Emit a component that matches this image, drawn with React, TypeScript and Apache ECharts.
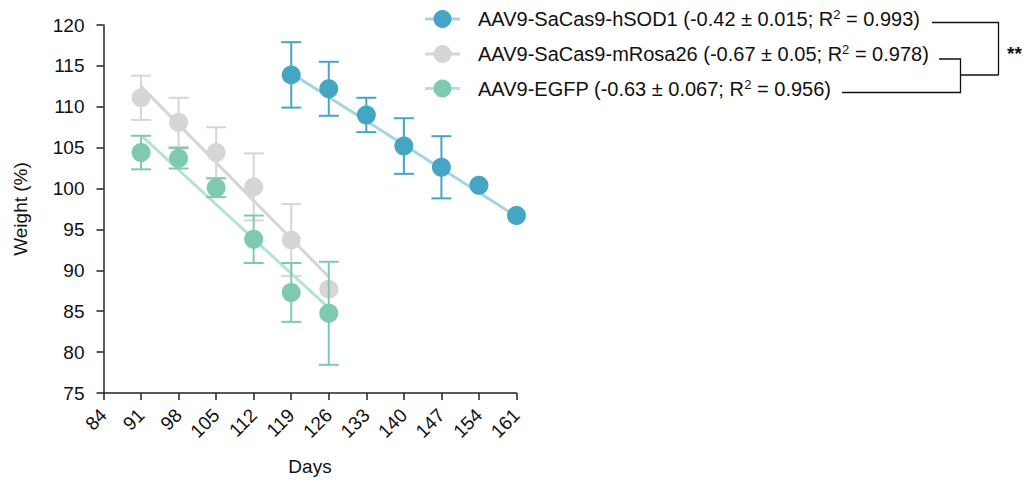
import React, { useEffect, useRef } from "react";
import * as echarts from "echarts";

const X_TICKS_MIN = 84;
const X_TICKS_MAX = 161;
const X_INTERVAL = 7;
const Y_MIN = 75;
const Y_MAX = 120;
const Y_INTERVAL = 5;

const SERIES_NAMES = [
  "AAV9-SaCas9-hSOD1",
  "AAV9-SaCas9-mRosa26",
  "AAV9-EGFP",
];
const SLOPE_TEXT = ["-0.42 ± 0.015", "-0.67 ± 0.05", "-0.63 ± 0.067"];
const R2_TEXT = ["0.993", "0.978", "0.956"];

const DAYS_HSOD1 = [119, 126, 133, 140, 147, 154, 161];
const MEAN_HSOD1 = [113.9, 112.2, 109.0, 105.2, 102.6, 100.4, 96.7];
const ERR_HSOD1 = [4.0, 3.3, 2.1, 3.4, 3.8, 0, 0];
const FIT_X_HSOD1 = [119, 161];
const FIT_Y_HSOD1 = [114.1, 96.6];

const DAYS_MROSA = [91, 98, 105, 112, 119, 126];
const MEAN_MROSA = [111.1, 108.1, 104.4, 100.2, 93.7, 87.7];
const ERR_MROSA = [2.7, 3.0, 3.1, 4.1, 4.4, 0];
const FIT_X_MROSA = [91, 126];
const FIT_Y_MROSA = [112.5, 89.2];

const DAYS_EGFP = [91, 98, 105, 112, 119, 126];
const MEAN_EGFP = [104.4, 103.7, 100.1, 93.8, 87.3, 84.75];
const ERR_EGFP = [2.05, 1.25, 1.15, 2.9, 3.6, 6.3];
const FIT_X_EGFP = [91, 126];
const FIT_Y_EGFP = [106.5, 85.4];

const MARKER_COLORS = ["#45a5c4", "#d6d6d6", "#7fc9b0"];
const LINE_COLORS = ["#a5d5e3", "#d6d6d6", "#b5e2d1"];

const FONT = "'Liberation Sans', Arial, Helvetica, sans-serif";
const FS = 19;
const LEGEND_FS = 20;

function errSeries(days: number[], mean: number[], err: number[], color: string, z: number) {
  const data = days.map((d, i) => [d, mean[i], err[i]]);
  return {
    type: "custom",
    z,
    data,
    renderItem: (params: any, api: any) => {
      const x = api.value(0);
      const m = api.value(1);
      const e = api.value(2);
      if (!e) return null;
      const top = api.coord([x, m + e]);
      const bot = api.coord([x, m - e]);
      const hw = 10;
      const style = { stroke: color, lineWidth: 2 };
      return {
        type: "group",
        children: [
          { type: "line", shape: { x1: top[0], y1: top[1], x2: bot[0], y2: bot[1] }, style },
          { type: "line", shape: { x1: top[0] - hw, y1: top[1], x2: top[0] + hw, y2: top[1] }, style },
          { type: "line", shape: { x1: bot[0] - hw, y1: bot[1], x2: bot[0] + hw, y2: bot[1] }, style },
        ],
      };
    },
  };
}

function fitSeries(xs: number[], ys: number[], color: string, z: number) {
  return {
    type: "line",
    z,
    data: xs.map((x, i) => [x, ys[i]]),
    showSymbol: false,
    symbol: "none",
    lineStyle: { color, width: 3 },
    silent: true,
  };
}

function markerSeries(days: number[], mean: number[], color: string, z: number) {
  return {
    type: "scatter",
    z,
    data: days.map((d, i) => [d, mean[i]]),
    symbol: "circle",
    symbolSize: 19,
    itemStyle: { color, opacity: 1 },
  };
}

export default function App() {
  const ref = useRef<HTMLDivElement>(null);
  useEffect(() => {
    if (!ref.current) return;
    const chart = echarts.init(ref.current, null, { renderer: "svg" });

    const legendRowsY = [19, 54, 88.5];
    const legendGraphics: any[] = [];
    SERIES_NAMES.forEach((name, i) => {
      const y = legendRowsY[i];
      legendGraphics.push({
        type: "line",
        shape: { x1: 425, y1: y, x2: 460, y2: y },
        style: { stroke: LINE_COLORS[i], lineWidth: 3 },
      });
      legendGraphics.push({
        type: "circle",
        shape: { cx: 442.5, cy: y, r: 9 },
        style: { fill: MARKER_COLORS[i] },
      });
      legendGraphics.push({
        type: "text",
        x: 478,
        y: y,
        style: {
          text: `${name} (${SLOPE_TEXT[i]}; R{sup|2} = ${R2_TEXT[i]})`,
          font: `${LEGEND_FS}px ${FONT}`,
          fill: "#111",
          verticalAlign: "middle",
          rich: {
            sup: { fontSize: 13, fontFamily: FONT, verticalAlign: "top", padding: [0, 0, 9, 0], fill: "#111" },
          },
        },
      });
    });
    const lineStyle = { stroke: "#111", lineWidth: 1.3 };
    legendGraphics.push(
      { type: "polyline", shape: { points: [[932, 22.5], [998.5, 22.5], [998.5, 75]] }, style: { ...lineStyle, fill: null } },
      { type: "polyline", shape: { points: [[939, 59], [960.5, 59], [960.5, 92.5], [842, 92.5]] }, style: { ...lineStyle, fill: null } },
      { type: "line", shape: { x1: 960.5, y1: 75, x2: 998.5, y2: 75 }, style: lineStyle },
      {
        type: "text",
        x: 1007,
        y: 53,
        style: { text: "**", font: `bold 19px ${FONT}`, fill: "#111", verticalAlign: "middle" },
      }
    );

    const option: any = {
      animation: false,
      grid: { left: 103.5, right: 513.5, top: 25, bottom: 89, containLabel: false },
      xAxis: {
        type: "value",
        min: X_TICKS_MIN,
        max: X_TICKS_MAX,
        interval: X_INTERVAL,
        name: "Days",
        nameLocation: "middle",
        nameGap: 64,
        nameTextStyle: { fontFamily: FONT, fontSize: FS, color: "#111" },
        axisLine: { lineStyle: { color: "#222", width: 1.5 } },
        axisTick: { show: true, length: 7, lineStyle: { color: "#222", width: 1.5 } },
        axisLabel: { rotate: 45, fontFamily: FONT, fontSize: FS, color: "#111", margin: 19 },
        splitLine: { show: false },
      },
      yAxis: {
        type: "value",
        min: Y_MIN,
        max: Y_MAX,
        interval: Y_INTERVAL,
        name: "Weight (%)",
        nameLocation: "middle",
        nameGap: 74,
        nameTextStyle: { fontFamily: FONT, fontSize: FS, color: "#111" },
        axisLine: { show: true, lineStyle: { color: "#222", width: 1.5 } },
        axisTick: { show: true, length: 7, lineStyle: { color: "#222", width: 1.5 } },
        axisLabel: { fontFamily: FONT, fontSize: FS, color: "#111", margin: 19 },
        splitLine: { show: false },
      },
      series: [
        fitSeries(FIT_X_MROSA, FIT_Y_MROSA, LINE_COLORS[1], 2),
        fitSeries(FIT_X_EGFP, FIT_Y_EGFP, LINE_COLORS[2], 2),
        fitSeries(FIT_X_HSOD1, FIT_Y_HSOD1, LINE_COLORS[0], 2),
        errSeries(DAYS_MROSA, MEAN_MROSA, ERR_MROSA, MARKER_COLORS[1], 3),
        markerSeries(DAYS_MROSA, MEAN_MROSA, MARKER_COLORS[1], 4),
        errSeries(DAYS_EGFP, MEAN_EGFP, ERR_EGFP, MARKER_COLORS[2], 5),
        markerSeries(DAYS_EGFP, MEAN_EGFP, MARKER_COLORS[2], 6),
        errSeries(DAYS_HSOD1, MEAN_HSOD1, ERR_HSOD1, MARKER_COLORS[0], 5),
        markerSeries(DAYS_HSOD1, MEAN_HSOD1, MARKER_COLORS[0], 6),
      ],
      graphic: legendGraphics,
    };
    chart.setOption(option);
    return () => chart.dispose();
  }, []);
  return (
    <div
      ref={ref}
      style={{ position: "fixed", left: 0, top: 0, width: 1030, height: 482, background: "#fff" }}
    />
  );
}
